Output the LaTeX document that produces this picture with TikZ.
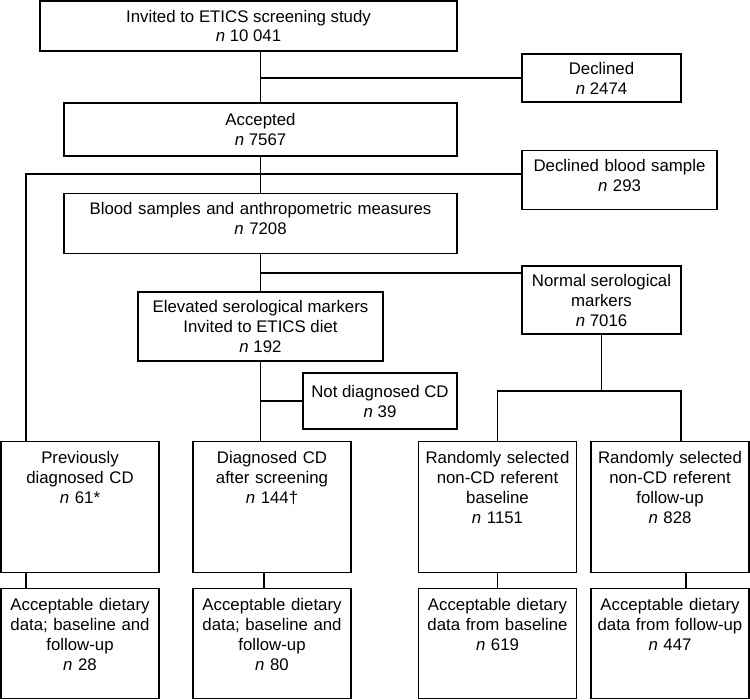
\documentclass[tikz,border=0pt]{standalone}
\usepackage{fontspec}
\setmainfont{Liberation Sans}
\usepackage{tikz}

\begin{document}
\begin{tikzpicture}[x=1pt,y=-1pt,line width=1.1pt,
  box/.style={draw,align=center,inner sep=0pt,font=\fontsize{16.8}{20}\selectfont},
  tall/.style={box,anchor=north,text width=158pt,text height=22pt,text depth=#1}]
\useasboundingbox (0,0) rectangle (750,700);
\node[box,minimum width=417pt,minimum height=50pt] (N0) at (248.5,26) {Invited to ETICS screening study\\\textit{n} 10 041};
\node[box,minimum width=159pt,minimum height=48pt] (N1) at (601.5,78) {Declined\\\textit{n} 2474};
\node[box,minimum width=393pt,minimum height=53pt] (N2) at (260.5,129.5) {Accepted\\\textit{n} 7567};
\node[tall=38pt,text width=195pt,text height=21pt] (N3) at (619.5,150) {Declined blood sample\\\textit{n} 293};
\node[tall=39pt,text width=393pt,text height=21pt] (N4) at (260.5,193) {Blood samples and anthropometric measures\\\textit{n} 7208};
\node[box,minimum width=245pt,minimum height=69pt] (N5) at (260.5,326.5) {Elevated serological markers\\Invited to ETICS diet\\\textit{n} 192};
\node[box,minimum width=159pt,minimum height=68pt] (N6) at (601.5,300) {Normal serological\\markers\\\textit{n} 7016};
\node[box,minimum width=154pt,minimum height=56pt] (N7) at (380,401) {Not diagnosed CD\\\textit{n} 39};
\node[tall=109pt] (N8) at (80,441) {Previously\\diagnosed CD\\\textit{n} 61*};
\node[tall=109pt] (N9) at (272,441) {Diagnosed CD\\after screening\\\textit{n} 144†};
\node[tall=109pt] (N10) at (497.5,441) {Randomly selected\\non-CD referent\\baseline\\\textit{n} 1151};
\node[tall=109pt] (N11) at (670,441) {Randomly selected\\non-CD referent\\follow-up\\\textit{n} 828};
\node[tall=88pt] (N12) at (80,588) {Acceptable dietary\\data; baseline and\\follow-up\\\textit{n} 28};
\node[tall=88pt] (N13) at (272,588) {Acceptable dietary\\data; baseline and\\follow-up\\\textit{n} 80};
\node[tall=88pt] (N14) at (497.5,588) {Acceptable dietary\\data from baseline\\\textit{n} 619};
\node[tall=88pt] (N15) at (670,588) {Acceptable dietary\\data from follow-up\\\textit{n} 447};
\coordinate (J1) at (26,174);
\coordinate (J2) at (260.5,273);
\coordinate (J3) at (681,391);
\draw (N0.south -| N2.north) -- (N2.north);
\draw (N2.north |- N1.west) -- (N1.west);
\draw (N2.south) -- (N4.north);
\draw (J1 -| N3.west) -- (J1) -- (J1 |- N8.north);
\draw (N4.south) -- (N5.north);
\draw (J2) -- (J2 -| N6.west);
\draw (N5.south) -- (N5.south |- N9.north);
\draw (N5.south |- N7.west) -- (N7.west);
\draw (N6.south) -- (N6.south |- J3);
\draw (N10.north) |- (J3) -- (J3 |- N11.north);
\draw (J1 |- N8.south) -- (J1 |- N12.north);
\draw ([xshift=-8pt]N9.south) -- ([xshift=-8pt]N13.north);
\draw (N10.south) -- (N14.north);
\draw ([xshift=16pt]N11.south) -- ([xshift=16pt]N15.north);
\end{tikzpicture}
\end{document}
